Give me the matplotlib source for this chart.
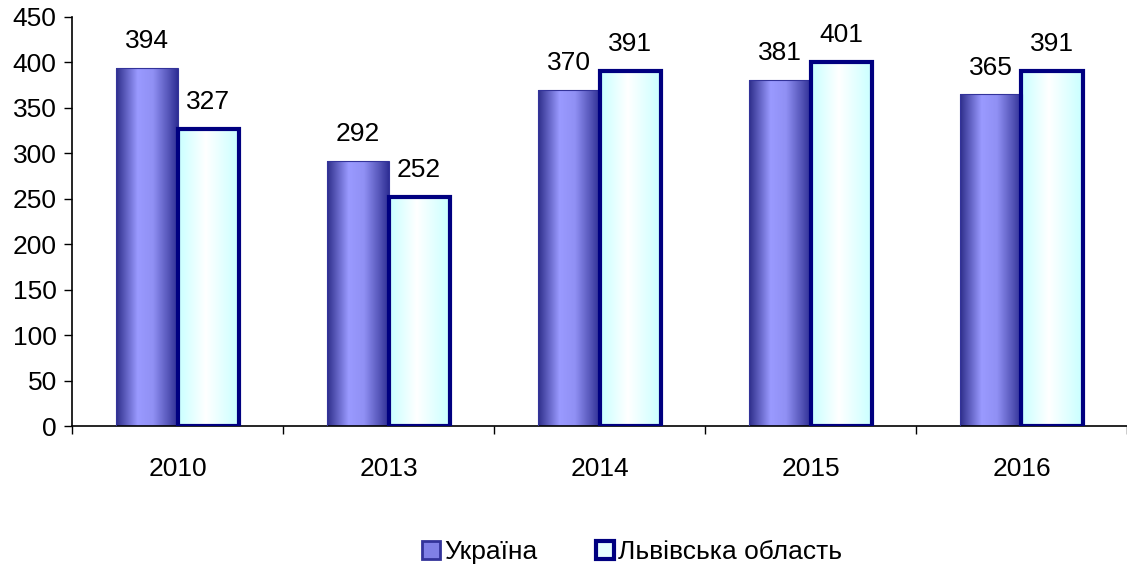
import numpy as np
import matplotlib.pyplot as plt
from matplotlib.colors import LinearSegmentedColormap
from matplotlib.patches import Rectangle, Patch

plt.rcParams['font.family'] = ['Liberation Sans', 'DejaVu Sans']

# Дані
years = ["2010", "2013", "2014", "2015", "2016"]
ukraine = [394, 292, 370, 381, 365]
lviv = [327, 252, 391, 401, 391]
series_names = ["Україна", "Львівська область"]

fig = plt.figure(figsize=(11.27, 5.69), dpi=100)
ax = fig.add_axes([72/1127, 1 - 426/569, 1 - 72/1127, (426 - 17)/569])

cmap_ua = LinearSegmentedColormap.from_list(
    "ua", [(0, "#2e2e8a"), (0.35, "#9a9aff"), (0.6, "#9090f4"),
           (0.85, "#5555b8"), (1, "#2e2e94")])
cmap_lv = LinearSegmentedColormap.from_list(
    "lv", [(0, "#c8ffff"), (0.45, "#ffffff"), (1, "#c8ffff")])

w = 0.29
x = np.arange(len(years))
grad = np.linspace(0, 1, 256).reshape(1, -1)


def gradient_bar(xc, h, cmap, edge, lw):
    left = xc - w / 2
    im = ax.imshow(grad, cmap=cmap, aspect="auto",
                   extent=(left, left + w, 0, h), zorder=2)
    rect = Rectangle((left, 0), w, h, facecolor="none", edgecolor=edge,
                     linewidth=lw, zorder=3)
    ax.add_patch(rect)
    im.set_clip_path(rect)


for i in range(len(years)):
    gradient_bar(x[i] - w / 2, ukraine[i], cmap_ua, "#33339a", 0.8)
    gradient_bar(x[i] + w / 2, lviv[i], cmap_lv, "#000080", 3)
    ax.text(x[i] - w / 2, ukraine[i] + 16, str(ukraine[i]), ha="center",
            va="bottom", fontsize=19)
    ax.text(x[i] + w / 2, lviv[i] + 16, str(lviv[i]), ha="center",
            va="bottom", fontsize=19)

ax.set_xlim(-0.5, len(years) - 0.5)
ax.set_ylim(0, 450)
ax.set_yticks(range(0, 451, 50))
ax.set_xticks(np.arange(len(years) + 1) - 0.5)
ax.set_xticklabels([])
ax.set_xticks(x, minor=True)
ax.set_xticklabels(years, minor=True, fontsize=19)
ax.tick_params(axis="x", which="minor", length=0, pad=22)
ax.tick_params(axis="x", which="major", length=6, width=1, direction="out")
ax.tick_params(axis="y", length=6, width=1, direction="out", labelsize=19, pad=5)
for s in ["top", "right"]:
    ax.spines[s].set_visible(False)
ax.spines["left"].set_linewidth(1.2)
ax.spines["bottom"].set_linewidth(1.2)

handles = [Patch(facecolor="#8080e6", edgecolor="#33339a", linewidth=2),
           Patch(facecolor="#e8ffff", edgecolor="#000080", linewidth=3)]
fig.legend(handles, series_names, loc="center", bbox_to_anchor=(632/1127, 1 - 552/569),
           ncol=2, frameon=False, fontsize=19, handlelength=0.7, handleheight=0.7,
           handletextpad=0.15, columnspacing=2.2)

fig.savefig("out.png", dpi=100)
